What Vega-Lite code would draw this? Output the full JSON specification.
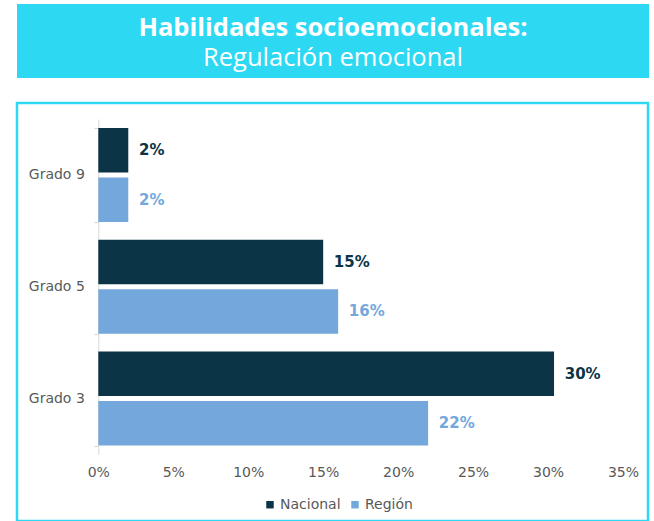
{
  "$schema": "https://vega.github.io/schema/vega-lite/v6.json",
  "padding": {"left": 15, "top": 4, "right": 3, "bottom": 0},
  "spacing": 16,
  "background": "white",
  "config": {"font": "DejaVu Sans", "view": {"stroke": null}},
  "vconcat": [
    {
      "width": 632,
      "height": 74,
      "view": {"fill": "#2DD8F2", "stroke": null},
      "data": {"values": [
        {"linea": "1", "texto": "Habilidades socioemocionales:"},
        {"linea": "2", "texto": "Regulación emocional"}
      ]},
      "encoding": {
        "y": {"field": "linea", "type": "ordinal", "axis": null, "scale": {"type": "point", "range": [32, 62], "padding": 0}},
        "text": {"field": "texto"}
      },
      "layer": [
        {"transform": [{"filter": "datum.linea === '1'"}], "mark": {"type": "text", "font": "Open Sans", "fontSize": 25.5, "fontWeight": "bold", "color": "white", "baseline": "alphabetic", "align": "center"}},
        {"transform": [{"filter": "datum.linea === '2'"}], "mark": {"type": "text", "font": "Open Sans", "fontSize": 25.5, "color": "white", "baseline": "alphabetic", "align": "center"}}
      ]
    },
    {
      "width": 631,
      "height": 418,
      "view": {"stroke": "#2DD8F2", "strokeWidth": 2.5, "fill": "white"},
      "data": {"values": [
        {"grado": "Grado 9", "serie": "Nacional", "valor": 0.02},
        {"grado": "Grado 9", "serie": "Región", "valor": 0.02},
        {"grado": "Grado 5", "serie": "Nacional", "valor": 0.15},
        {"grado": "Grado 5", "serie": "Región", "valor": 0.16},
        {"grado": "Grado 3", "serie": "Nacional", "valor": 0.304},
        {"grado": "Grado 3", "serie": "Región", "valor": 0.22}
      ]},
      "encoding": {
        "y": {
          "field": "grado", "type": "nominal", "title": null,
          "sort": ["Grado 9", "Grado 5", "Grado 3"],
          "scale": {"range": [16, 351.5], "paddingInner": 0.16, "paddingOuter": 0.08},
          "axis": {"offset": -81.3, "domainColor": "#D9D9D9", "tickColor": "#D9D9D9", "tickSize": 4.5, "tickBand": "extent", "labelColor": "#595959", "labelFontSize": 14, "labelPadding": 9.5, "grid": false}
        },
        "yOffset": {"field": "serie", "type": "nominal", "sort": ["Nacional", "Región"], "scale": {"paddingInner": 0.1, "paddingOuter": 0}},
        "x": {
          "field": "valor", "type": "quantitative", "title": null,
          "scale": {"domain": [0, 0.35], "range": [81.3, 606], "nice": false, "zero": true},
          "axis": {"values": [0, 0.05, 0.1, 0.15, 0.2, 0.25, 0.3, 0.35], "format": ".0%", "offset": -66.5, "domain": false, "ticks": false, "grid": false, "labelColor": "#595959", "labelFontSize": 14, "labelPadding": 18, "labelBaseline": "middle", "labelFlush": false}
        }
      },
      "layer": [
        {
          "mark": {"type": "bar"},
          "encoding": {
            "color": {
              "field": "serie", "type": "nominal",
              "scale": {"domain": ["Nacional", "Región"], "range": ["#0B3447", "#74A8DC"]},
              "legend": {"orient": "none", "legendX": 246, "legendY": 493.7, "direction": "horizontal", "title": null, "symbolType": "square", "symbolSize": 56, "symbolStrokeWidth": 0, "labelFontSize": 14, "labelColor": "#595959", "labelOffset": 3, "columnPadding": 7, "padding": 0}
            }
          }
        },
        {
          "mark": {"type": "text", "align": "left", "baseline": "middle", "dx": 10.7, "fontWeight": "bold", "fontSize": 15},
          "encoding": {
            "text": {"field": "valor", "type": "quantitative", "format": ".0%"},
            "color": {"condition": {"test": "datum.serie === 'Nacional'", "value": "#0B3447"}, "value": "#74A8DC"}
          }
        }
      ]
    }
  ]
}
